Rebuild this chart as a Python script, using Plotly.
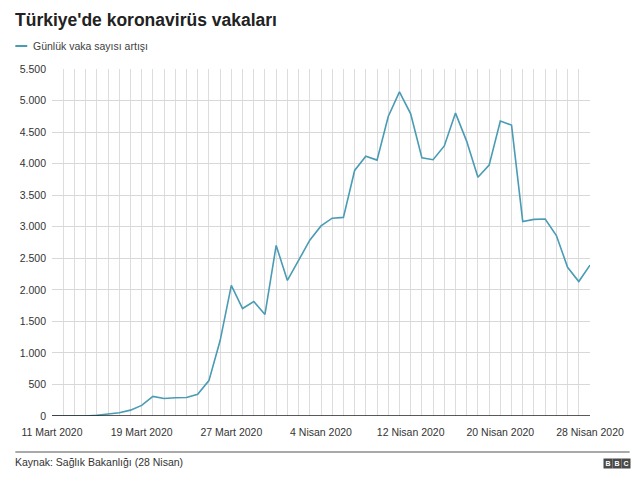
import plotly.graph_objects as go
import pandas as pd

dates = pd.date_range("2020-03-11", "2020-04-28", freq="D")
daily_cases = [1, 0, 4, 1, 12, 29, 51, 93, 168, 311, 277, 289, 293, 343, 561,
               1196, 2069, 1704, 1815, 1610, 2704, 2148, 2456, 2786, 3013, 3135,
               3148, 3892, 4117, 4056, 4747, 5138, 4789, 4093, 4062, 4281, 4801,
               4353, 3783, 3977, 4674, 4611, 3083, 3116, 3122, 2861, 2357, 2131, 2392]
x_tick_vals = ["2020-03-11", "2020-03-19", "2020-03-27", "2020-04-04",
               "2020-04-12", "2020-04-20", "2020-04-28"]
x_tick_text = ["11 Mart 2020", "19 Mart 2020", "27 Mart 2020", "4 Nisan 2020",
               "12 Nisan 2020", "20 Nisan 2020", "28 Nisan 2020"]
y_tick_vals = list(range(0, 5501, 500))
y_tick_text = ["0", "500", "1.000", "1.500", "2.000", "2.500", "3.000",
               "3.500", "4.000", "4.500", "5.000", "5.500"]

LINE = "#4a9bb4"
FONT = "Liberation Sans, Arial, sans-serif"

# page body has an 8px margin; work in reference pixel coordinates and offset
OFF = 8
W, H = 640 - OFF, 481 - OFF
L, R, T, B = 47 - OFF, 590 - OFF, 69 - OFF, 416 - OFF

fig = go.Figure()
fig.add_trace(go.Scatter(x=dates, y=daily_cases, mode="lines",
                         line=dict(color=LINE, width=1.6),
                         name="Günlük vaka sayısı artışı"))

fig.update_layout(
    width=W, height=H,
    margin=dict(l=L, r=W - R, t=T, b=H - B),
    paper_bgcolor="white", plot_bgcolor="white",
    font=dict(family=FONT, size=10.5, color="#404040"),
    showlegend=False,
    xaxis=dict(
        range=["2020-03-11", "2020-04-28"],
        tickvals=x_tick_vals, ticktext=x_tick_text,
        showgrid=True, gridcolor="#dddddd", gridwidth=1,
        minor=dict(dtick=86400000, tick0="2020-03-11", showgrid=True,
                   gridcolor="#dddddd", gridwidth=1),
        ticks="", showline=False, zeroline=False,
        tickfont=dict(size=10.5, color="#333333"),
        ticklabelstandoff=8,
    ),
    yaxis=dict(
        range=[0, 5500],
        tickvals=y_tick_vals, ticktext=y_tick_text,
        showgrid=True, gridcolor="#d8d8d8", gridwidth=1,
        zeroline=False, ticks="", showline=False,
        tickfont=dict(size=10.5, color="#333333"),
        ticklabelstandoff=5,
    ),
)

def px_x(p):
    return (p - OFF - L) / (R - L)

def px_y(p):
    return (B - (p - OFF)) / (B - T)

shapes = [
    dict(type="line", xref="paper", yref="y", x0=0, x1=1, y0=0, y1=0,
         line=dict(color="#222222", width=1.6)),
    dict(type="line", xref="paper", yref="paper", x0=px_x(10), x1=px_x(630),
         y0=px_y(452), y1=px_y(452), line=dict(color="#555555", width=1)),
    dict(type="line", xref="paper", yref="paper", x0=px_x(10), x1=px_x(22),
         y0=px_y(46), y1=px_y(46), line=dict(color=LINE, width=2)),
]
fig.update_layout(shapes=shapes)

ann = [
    dict(text="<b>Türkiye'de koronavirüs vakaları</b>", x=px_x(8), y=px_y(20),
         xanchor="left", yanchor="middle", font=dict(size=17.5, color="#222222")),
    dict(text="Günlük vaka sayısı artışı", x=px_x(26), y=px_y(46),
         xanchor="left", yanchor="middle", font=dict(size=10.5, color="#404040")),
    dict(text="Kaynak: Sağlık Bakanlığı (28 Nisan)", x=px_x(8), y=px_y(462),
         xanchor="left", yanchor="middle", font=dict(size=10.5, color="#333333")),
]
for i, letter in enumerate(["B", "B", "C"]):
    ann.append(dict(text="<b>" + letter + "</b>", x=px_x(608 + i * 9), y=px_y(463),
                    xanchor="center", yanchor="middle",
                    font=dict(size=7, color="white", family=FONT),
                    bgcolor="#4a4a4a", borderpad=1, width=6, height=7))
for a in ann:
    a.setdefault("xref", "paper")
    a.setdefault("yref", "paper")
    a["showarrow"] = False
fig.update_layout(annotations=ann)

fig.write_html("out.html")
